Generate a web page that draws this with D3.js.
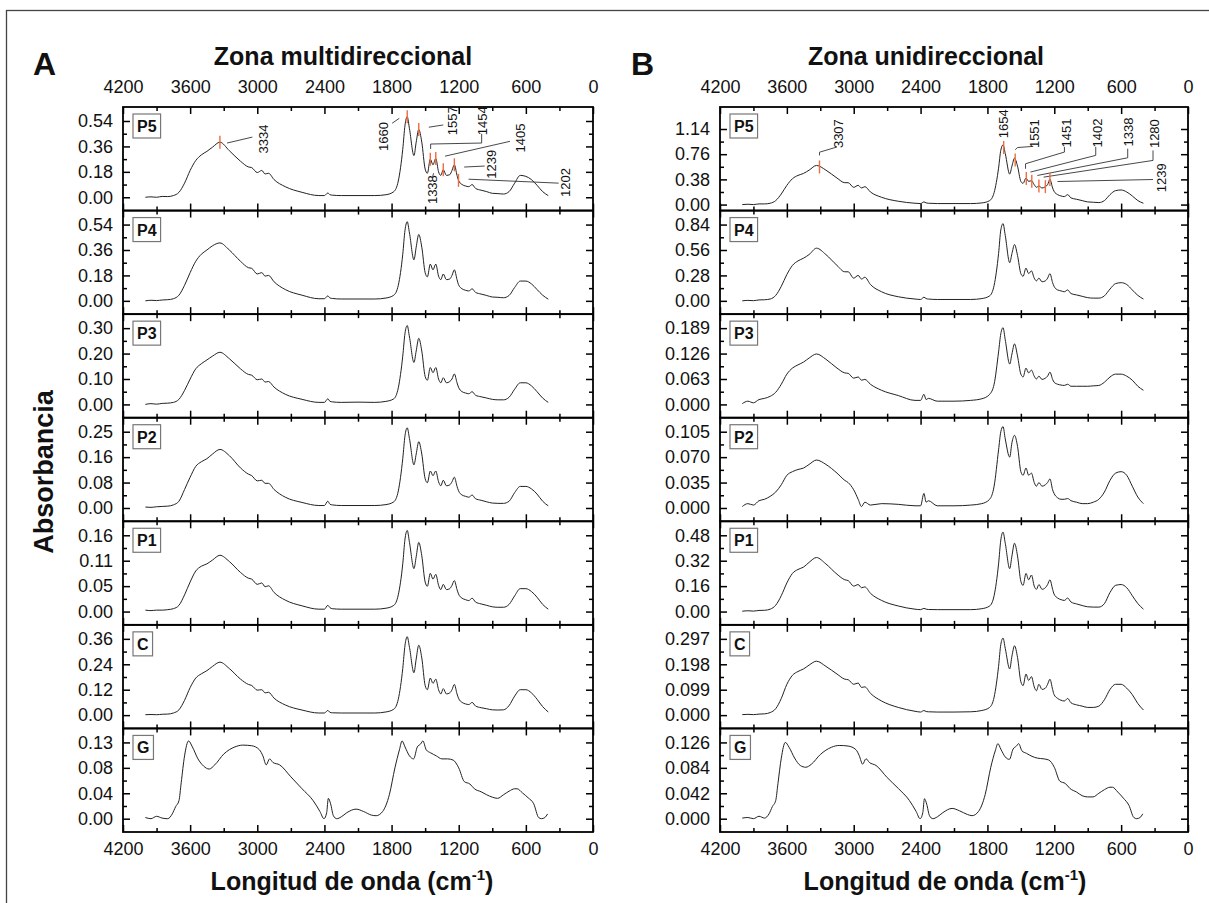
<!DOCTYPE html>
<html><head><meta charset="utf-8">
<script src="https://cdn.jsdelivr.net/npm/d3@7"></script>
<style>body{margin:0;background:#fff}svg{display:block}text{font-family:"Liberation Sans",Arial,sans-serif;fill:#111}</style>
</head><body><svg id="c" width="1209" height="903"></svg>
<script>
// ---------- DATA ----------
const wn = [4000,3950,3900,3850,3800,3750,3700,3650,3600,3550,3500,3450,3400,3334,3250,3150,3080,3050,3000,2960,2930,2900,2850,2750,2600,2450,2400,2370,2350,2330,2250,2100,1950,1850,1780,1740,1700,1680,1660,1640,1600,1580,1557,1530,1500,1480,1454,1430,1405,1380,1360,1338,1310,1280,1260,1239,1215,1202,1170,1140,1110,1080,1050,1000,950,900,850,800,750,700,650,600,550,500,450,400];
const wnG = [4000,3950,3900,3850,3800,3760,3730,3700,3680,3650,3614,3580,3530,3480,3430,3380,3300,3200,3130,3050,2980,2950,2920,2890,2860,2800,2700,2600,2500,2440,2404,2380,2365,2345,2320,2290,2250,2200,2117,2050,1980,1938,1880,1820,1770,1730,1706,1680,1640,1603,1570,1540,1520,1490,1450,1400,1350,1300,1250,1200,1150,1100,1060,1000,950,900,853,800,750,700,678,630,580,530,486,460,430,406];

const multiP5 = [0,0.003,0,0.006,0.005,0.012,0.035,0.10,0.19,0.26,0.30,0.325,0.355,0.39,0.33,0.255,0.215,0.21,0.175,0.19,0.165,0.17,0.125,0.075,0.035,0.012,0.012,0.03,0.018,0.015,0.012,0.012,0.012,0.018,0.04,0.115,0.34,0.51,0.57,0.485,0.295,0.39,0.48,0.39,0.20,0.17,0.27,0.23,0.275,0.18,0.155,0.195,0.155,0.16,0.19,0.23,0.155,0.12,0.09,0.08,0.075,0.09,0.063,0.05,0.04,0.028,0.026,0.023,0.04,0.10,0.155,0.148,0.125,0.085,0.04,0.012];
const multiP4 = [0,0.004,0.002,0.006,0.008,0.015,0.04,0.11,0.20,0.28,0.33,0.36,0.39,0.41,0.36,0.28,0.235,0.23,0.19,0.20,0.175,0.18,0.135,0.08,0.04,0.015,0.015,0.035,0.02,0.017,0.013,0.013,0.013,0.02,0.04,0.11,0.33,0.50,0.56,0.48,0.29,0.38,0.47,0.38,0.20,0.17,0.26,0.22,0.26,0.175,0.15,0.19,0.15,0.155,0.18,0.22,0.15,0.115,0.085,0.075,0.07,0.085,0.06,0.048,0.038,0.027,0.025,0.022,0.038,0.095,0.14,0.14,0.12,0.08,0.04,0.012];
const multiP3 = [0,0.003,0.001,0.004,0.005,0.008,0.02,0.055,0.10,0.14,0.16,0.175,0.19,0.205,0.18,0.14,0.118,0.115,0.097,0.10,0.088,0.09,0.068,0.04,0.02,0.008,0.008,0.022,0.012,0.01,0.008,0.009,0.008,0.012,0.022,0.065,0.19,0.28,0.31,0.265,0.165,0.21,0.26,0.21,0.11,0.095,0.145,0.125,0.145,0.10,0.085,0.105,0.085,0.09,0.10,0.12,0.085,0.068,0.05,0.045,0.042,0.05,0.036,0.03,0.025,0.02,0.018,0.018,0.028,0.06,0.085,0.085,0.073,0.05,0.025,0.008];
const multiP2 = [0.003,0.002,0.004,0.005,0.006,0.01,0.022,0.06,0.10,0.135,0.15,0.16,0.175,0.19,0.17,0.13,0.11,0.105,0.088,0.09,0.08,0.08,0.06,0.035,0.018,0.008,0.008,0.022,0.012,0.01,0.008,0.008,0.008,0.011,0.02,0.055,0.16,0.235,0.26,0.225,0.14,0.175,0.215,0.175,0.095,0.082,0.12,0.105,0.12,0.085,0.072,0.09,0.072,0.075,0.085,0.10,0.07,0.056,0.042,0.038,0.035,0.042,0.03,0.025,0.02,0.016,0.015,0.015,0.022,0.05,0.07,0.07,0.062,0.045,0.022,0.007];
const multiP1 = [0.003,0.002,0.003,0.003,0.004,0.006,0.013,0.035,0.062,0.085,0.095,0.10,0.108,0.118,0.105,0.082,0.07,0.068,0.057,0.06,0.052,0.054,0.04,0.024,0.012,0.005,0.005,0.013,0.008,0.006,0.005,0.005,0.005,0.007,0.013,0.035,0.10,0.152,0.17,0.145,0.09,0.115,0.145,0.117,0.062,0.053,0.08,0.068,0.078,0.055,0.046,0.057,0.046,0.048,0.055,0.065,0.046,0.037,0.028,0.025,0.023,0.028,0.02,0.016,0.013,0.01,0.009,0.009,0.015,0.033,0.048,0.048,0.042,0.03,0.015,0.005];
const multiC = [0.002,0.003,0.002,0.004,0.005,0.01,0.025,0.07,0.13,0.175,0.195,0.21,0.23,0.25,0.22,0.17,0.145,0.14,0.118,0.12,0.105,0.108,0.08,0.048,0.024,0.01,0.01,0.022,0.013,0.011,0.01,0.01,0.01,0.015,0.028,0.075,0.22,0.33,0.37,0.32,0.20,0.265,0.33,0.27,0.14,0.12,0.175,0.15,0.17,0.12,0.10,0.125,0.10,0.105,0.12,0.145,0.10,0.08,0.06,0.053,0.05,0.06,0.043,0.035,0.03,0.025,0.024,0.025,0.045,0.09,0.12,0.12,0.105,0.075,0.04,0.015];
const multiG = [0.002,0,0.004,0.001,0,0.008,0.02,0.03,0.06,0.105,0.13,0.12,0.10,0.088,0.083,0.09,0.108,0.12,0.123,0.122,0.115,0.105,0.09,0.10,0.094,0.09,0.07,0.05,0.03,0.012,0,0.01,0.034,0.025,0.005,0,0.003,0.01,0.016,0.012,0.006,0.005,0.012,0.04,0.085,0.115,0.13,0.12,0.105,0.10,0.12,0.125,0.13,0.115,0.11,0.105,0.10,0.10,0.098,0.085,0.062,0.058,0.05,0.045,0.04,0.036,0.034,0.04,0.046,0.05,0.05,0.043,0.035,0.025,0.002,0,0.002,0.008];

const uniP5 = [0,0.005,0,0.01,0.01,0.02,0.06,0.16,0.29,0.39,0.44,0.47,0.52,0.59,0.52,0.40,0.33,0.33,0.26,0.29,0.25,0.27,0.19,0.11,0.05,0.02,0.015,0.04,0.025,0.02,0.015,0.015,0.015,0.025,0.06,0.18,0.55,0.82,0.90,0.77,0.46,0.58,0.70,0.58,0.35,0.32,0.40,0.35,0.36,0.30,0.26,0.28,0.25,0.27,0.30,0.38,0.25,0.20,0.15,0.13,0.12,0.15,0.10,0.08,0.06,0.04,0.035,0.03,0.06,0.15,0.21,0.22,0.19,0.13,0.06,0.02];
const uniP4 = [0,0.005,0.002,0.01,0.012,0.02,0.06,0.16,0.29,0.39,0.44,0.47,0.51,0.58,0.51,0.39,0.32,0.32,0.25,0.28,0.24,0.26,0.18,0.10,0.045,0.02,0.015,0.04,0.025,0.02,0.015,0.015,0.015,0.025,0.055,0.17,0.52,0.78,0.85,0.72,0.42,0.52,0.62,0.50,0.30,0.27,0.36,0.30,0.33,0.25,0.22,0.25,0.21,0.22,0.25,0.30,0.20,0.16,0.12,0.11,0.10,0.12,0.08,0.065,0.05,0.035,0.03,0.03,0.055,0.13,0.19,0.20,0.18,0.12,0.06,0.02];
const uniP3 = [0.002,0.008,0.004,0.012,0.015,0.02,0.03,0.05,0.075,0.09,0.098,0.105,0.115,0.125,0.112,0.09,0.078,0.077,0.065,0.068,0.06,0.062,0.05,0.035,0.022,0.01,0.01,0.025,0.012,0.015,0.008,0.008,0.01,0.014,0.025,0.05,0.13,0.175,0.19,0.16,0.10,0.125,0.15,0.12,0.075,0.068,0.09,0.078,0.085,0.07,0.063,0.07,0.062,0.065,0.07,0.08,0.062,0.055,0.05,0.048,0.047,0.05,0.045,0.045,0.045,0.045,0.046,0.047,0.055,0.068,0.075,0.075,0.07,0.06,0.045,0.035];
const uniP2 = [0.002,0.006,0.004,0.01,0.012,0.016,0.022,0.032,0.045,0.05,0.053,0.055,0.06,0.066,0.06,0.048,0.038,0.035,0.025,0.012,0.002,0.008,0.004,0.006,0.005,0.003,0.003,0.02,0.008,0.01,0.003,0.003,0.004,0.006,0.012,0.03,0.08,0.105,0.112,0.095,0.07,0.09,0.10,0.085,0.05,0.045,0.055,0.045,0.048,0.035,0.03,0.035,0.03,0.032,0.035,0.04,0.025,0.02,0.014,0.012,0.012,0.013,0.01,0.008,0.006,0.006,0.008,0.012,0.022,0.038,0.048,0.05,0.045,0.03,0.015,0.006];
const uniP1 = [0.002,0.005,0.003,0.007,0.008,0.015,0.04,0.10,0.18,0.24,0.265,0.28,0.31,0.34,0.30,0.235,0.20,0.195,0.16,0.17,0.15,0.155,0.115,0.07,0.035,0.015,0.012,0.02,0.015,0.013,0.012,0.012,0.012,0.018,0.035,0.10,0.30,0.45,0.50,0.43,0.27,0.35,0.43,0.35,0.19,0.165,0.24,0.20,0.23,0.16,0.14,0.17,0.14,0.15,0.17,0.20,0.14,0.11,0.085,0.075,0.07,0.085,0.06,0.048,0.038,0.03,0.028,0.028,0.05,0.12,0.165,0.17,0.15,0.10,0.05,0.015];
const uniC = [0.002,0.003,0.002,0.004,0.005,0.01,0.025,0.065,0.12,0.155,0.17,0.18,0.195,0.21,0.19,0.16,0.14,0.138,0.12,0.125,0.108,0.11,0.085,0.055,0.03,0.015,0.012,0.018,0.014,0.013,0.012,0.012,0.013,0.018,0.03,0.07,0.19,0.275,0.30,0.26,0.18,0.23,0.27,0.225,0.13,0.115,0.16,0.135,0.15,0.11,0.095,0.12,0.10,0.105,0.12,0.14,0.10,0.08,0.065,0.058,0.055,0.065,0.048,0.04,0.035,0.03,0.03,0.035,0.06,0.10,0.12,0.12,0.105,0.08,0.045,0.02];
const uniG = [0.001,0.002,0,0.004,0.001,0.008,0.02,0.03,0.058,0.1,0.126,0.118,0.1,0.088,0.085,0.09,0.106,0.118,0.121,0.12,0.114,0.104,0.09,0.099,0.093,0.088,0.068,0.05,0.03,0.012,0,0.01,0.033,0.024,0.005,0,0.003,0.01,0.017,0.013,0.007,0.005,0.012,0.04,0.085,0.112,0.124,0.115,0.102,0.098,0.115,0.12,0.124,0.112,0.108,0.103,0.1,0.099,0.097,0.085,0.062,0.058,0.05,0.044,0.038,0.036,0.036,0.042,0.048,0.052,0.052,0.044,0.034,0.022,0.002,0,0.002,0.008];

const panelNames = ["P5","P4","P3","P2","P1","C","G"];
const multiTickLabels = [["0.00","0.18","0.36","0.54"],["0.00","0.18","0.36","0.54"],["0.00","0.10","0.20","0.30"],["0.00","0.08","0.16","0.25"],["0.00","0.05","0.11","0.16"],["0.00","0.12","0.24","0.36"],["0.00","0.04","0.08","0.13"]];
const multiTickSteps = [0.18,0.18,0.10,0.0825,0.0533,0.12,0.0425];
const uniTickLabels = [["0.00","0.38","0.76","1.14"],["0.00","0.28","0.56","0.84"],["0.000","0.063","0.126","0.189"],["0.000","0.035","0.070","0.105"],["0.00","0.16","0.32","0.48"],["0.000","0.099","0.198","0.297"],["0.000","0.042","0.084","0.126"]];
const uniTickSteps = [0.38,0.28,0.063,0.035,0.16,0.099,0.042];
const xMajorTicks = [4200,3600,3000,2400,1800,1200,600,0];
const xMinorTicks = [3900,3300,2700,2100,1500,900,300];

const multiAnnotations = [
  {mark:3334, text:"3334", at:[2948,0.412], path:[[3270,0.384],[3044,0.426]]},
  {mark:1660, text:"1660", at:[1869,0.43], path:[[1795,0.524],[1731,0.559]]},
  {mark:1557, text:"1557", at:[1257,0.542], path:[[1467,0.496],[1338,0.512]]},
  {mark:1454, text:"1454", at:[984,0.542], path:[[1451,0.342],[1451,0.377],[995,0.384],[995,0.449]]},
  {mark:1405, text:"1405", at:[645,0.419], path:[[1322,0.291],[742,0.396]]},
  {mark:1338, text:"1338", at:[1434,0.054], path:[[1434,0.14],[1425,0.17]]},
  {mark:1239, text:"1239", at:[903,0.233], path:[[1151,0.214],[968,0.221]]},
  {mark:1202, text:"1202", at:[243,0.105], path:[[1112,0.128],[307,0.1]]}
];
const uniAnnotations = [
  {mark:3307, text:"3307", at:[3136,1.07], path:[[3307,0.742],[3307,0.79],[3151,0.868]]},
  {mark:1654, text:"1654", at:[1654,1.22], path:[]},
  {mark:1551, text:"1551", at:[1374,1.07], path:[[1551,0.827],[1530,0.86],[1389,0.878]]},
  {mark:1451, text:"1451", at:[1093,1.08], path:[[1458,0.54],[1458,0.616],[1109,0.792],[1109,0.868]]},
  {mark:1402, text:"1402", at:[812,1.08], path:[[1414,0.49],[828,0.742],[828,0.868]]},
  {mark:1338, text:"1338", at:[532,1.095], path:[[1352,0.439],[541,0.706],[541,0.843]]},
  {mark:1280, text:"1280", at:[298,1.07], path:[[1296,0.414],[314,0.666],[314,0.817]]},
  {mark:1239, text:"1239", at:[236,0.404], path:[[1171,0.348],[314,0.378]]}
];

// ---------- LAYOUT ----------
const svg = d3.select("#c");
const top0 = 107, bot0 = 832, nP = 7, pH = (bot0 - top0) / nP;
const FONT = '"Liberation Sans",Arial,sans-serif';
const columns = [
  {x0:123, x1:593, letter:"A", letterX:33, title:"Zona multidireccional", titleX:343,
   series:[multiP5,multiP4,multiP3,multiP2,multiP1,multiC,multiG], labels:multiTickLabels, steps:multiTickSteps,
   annos:multiAnnotations, zeroOff:[13.3,13.3,13.3,13.3,13.3,13.3,13.3], topOff:[14,14,14,14,14,14,14], xTitleX:352},
  {x0:720, x1:1188, letter:"B", letterX:631, title:"Zona unidireccional", titleX:926,
   series:[uniP5,uniP4,uniP3,uniP2,uniP1,uniC,uniG], labels:uniTickLabels, steps:uniTickSteps,
   annos:uniAnnotations, zeroOff:[6,13.3,13.3,13.3,13.3,13.3,13.3], topOff:[22,14,14,14,14,14,14], xTitleX:945}
];

svg.append("rect").attr("x",6.5).attr("y",10.5).attr("width",1240).attr("height",1000)
  .attr("fill","none").attr("stroke","#444").attr("stroke-width",1.3);

svg.append("text").attr("transform","translate(53,472) rotate(-90)").attr("text-anchor","middle")
  .attr("font-size",27).attr("font-weight","bold").text("Absorbancia");

function valueAt(xs, ys, w){
  for(let i=0;i<xs.length-1;i++){
    if(xs[i]>=w && xs[i+1]<=w){const t=(xs[i]-w)/(xs[i]-xs[i+1]);return ys[i]+t*(ys[i+1]-ys[i]);}
  }
  return ys[ys.length-1];
}

columns.forEach(col=>{
  const x = d3.scaleLinear().domain([4200,0]).range([col.x0,col.x1]);
  svg.append("text").attr("x",col.letterX).attr("y",75).attr("font-size",32).attr("font-weight","bold").text(col.letter);
  svg.append("text").attr("x",col.titleX).attr("y",65).attr("text-anchor","middle").attr("font-size",25).attr("font-weight","bold").text(col.title);

  col.series.forEach((vals,i)=>{
    const top = top0 + i*pH, bot = top + pH;
    const step = col.steps[i];
    const y = d3.scaleLinear().domain([0,3*step]).range([bot-col.zeroOff[i], top+col.topOff[i]]);
    const g = svg.append("g");
    const xs = panelNames[i]==="G" ? wnG : wn;
    const yl = g.append("g").attr("transform",`translate(${col.x0},0)`)
      .call(d3.axisLeft(y).tickValues([0,step,2*step,3*step]).tickFormat((d,k)=>col.labels[i][k]).tickSizeInner(-7).tickSizeOuter(0).tickPadding(10));
    yl.selectAll("text").attr("font-size",18).style("font-family",FONT).attr("fill","#111");
    g.append("g").attr("transform",`translate(${col.x0},0)`)
      .call(d3.axisLeft(y).tickValues([0.5*step,1.5*step,2.5*step]).tickFormat("").tickSizeInner(-4).tickSizeOuter(0));
    g.append("g").attr("transform",`translate(${col.x1},0)`)
      .call(d3.axisRight(y).tickValues([0,step,2*step,3*step]).tickFormat("").tickSizeInner(-7).tickSizeOuter(0));
    g.append("g").attr("transform",`translate(${col.x1},0)`)
      .call(d3.axisRight(y).tickValues([0.5*step,1.5*step,2.5*step]).tickFormat("").tickSizeInner(-4).tickSizeOuter(0));
    const xt = g.append("g").attr("transform",`translate(0,${top})`)
      .call(d3.axisTop(x).tickValues(xMajorTicks).tickFormat(i===0? d3.format("d") : "").tickSizeInner(-7).tickSizeOuter(0).tickPadding(14));
    xt.selectAll("text").attr("font-size",18).style("font-family",FONT).attr("fill","#111");
    g.append("g").attr("transform",`translate(0,${top})`)
      .call(d3.axisTop(x).tickValues(xMinorTicks).tickFormat("").tickSizeInner(-4).tickSizeOuter(0));
    const xb = g.append("g").attr("transform",`translate(0,${bot})`)
      .call(d3.axisBottom(x).tickValues(xMajorTicks).tickFormat(i===nP-1? d3.format("d") : "").tickSizeInner(-7).tickSizeOuter(0).tickPadding(10));
    xb.selectAll("text").attr("font-size",18).style("font-family",FONT).attr("fill","#111");
    g.append("g").attr("transform",`translate(0,${bot})`)
      .call(d3.axisBottom(x).tickValues(xMinorTicks).tickFormat("").tickSizeInner(-4).tickSizeOuter(0));
    g.selectAll(".domain").remove();
    g.selectAll(".tick line").attr("stroke","#000").attr("stroke-width",1.5);

    const pts = xs.map((w,k)=>[w, vals[k]]);
    g.append("path").datum(pts).attr("fill","none").attr("stroke","#222").attr("stroke-width",1)
      .attr("d", d3.line().x(d=>x(d[0])).y(d=>y(d[1])).curve(d3.curveMonotoneX));

    g.append("rect").attr("x",col.x0).attr("y",top).attr("width",col.x1-col.x0).attr("height",pH)
      .attr("fill","none").attr("stroke","#000").attr("stroke-width",1.8);

    const lg = g.append("g");
    const box = lg.append("rect").attr("x",col.x0+10).attr("y",top+7).attr("height",24)
      .attr("fill","#fff").attr("stroke","#777").attr("stroke-width",1.2);
    const lt = lg.append("text").attr("x",col.x0+14).attr("y",top+25).attr("font-size",16).attr("font-weight","bold").text(panelNames[i]);
    box.attr("width", lt.node().getComputedTextLength()+8);

    if(i===0){
      col.annos.forEach(a=>{
        if(a.path.length){
          g.append("path").datum(a.path).attr("fill","none").attr("stroke","#333").attr("stroke-width",0.9)
            .attr("d", d3.line().x(d=>x(d[0])).y(d=>y(d[1])));
        }
        const v = valueAt(xs, vals, a.mark);
        g.append("line").attr("x1",x(a.mark)).attr("x2",x(a.mark)).attr("y1",y(v)-6.5).attr("y2",y(v)+6.5)
          .attr("stroke","#f26a3d").attr("stroke-width",1.4);
        g.append("text").attr("transform",`translate(${x(a.at[0])+4.5},${y(a.at[1])}) rotate(-90)`)
          .attr("text-anchor","middle").attr("font-size",13).text(a.text);
      });
    }
  });

  const t = svg.append("text").attr("x",col.xTitleX).attr("y",890).attr("text-anchor","middle")
    .attr("font-size",25).attr("font-weight","bold");
  t.append("tspan").text("Longitud de onda (cm");
  t.append("tspan").attr("font-size",15).attr("dy",-10).text("-1");
  t.append("tspan").attr("dy",10).text(")");
});
</script></body></html>
